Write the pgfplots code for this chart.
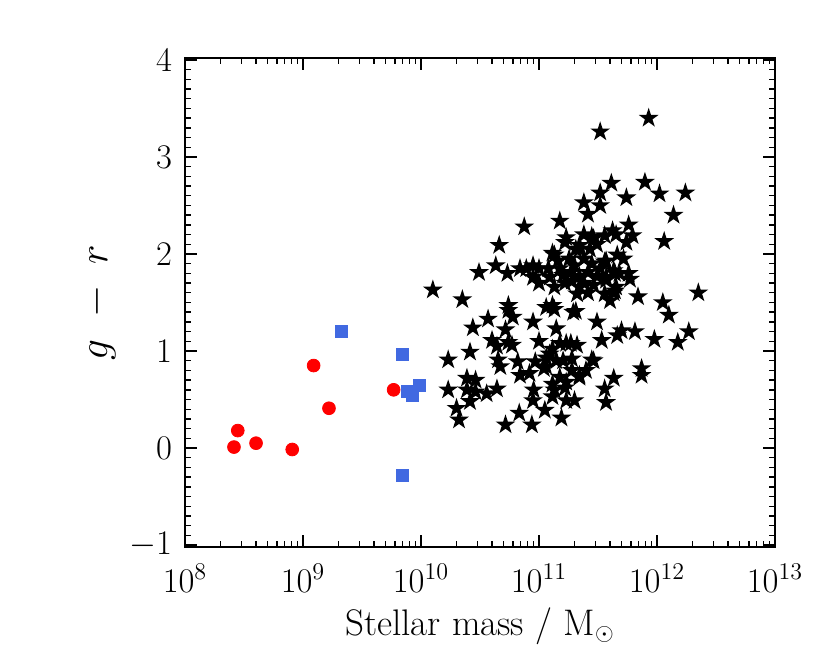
\documentclass[border=0pt]{standalone}
\usepackage{pgfplots}
\pgfplotsset{compat=1.18}
\definecolor{myred}{RGB}{255,0,0}
\definecolor{myblue}{RGB}{65,105,225}
\pgfdeclareplotmark{fstar}{%
  \pgfpathmoveto{\pgfpointpolar{90}{\pgfplotmarksize}}%
  \pgfpathlineto{\pgfpointpolar{126}{0.382\pgfplotmarksize}}%
  \pgfpathlineto{\pgfpointpolar{162}{\pgfplotmarksize}}%
  \pgfpathlineto{\pgfpointpolar{198}{0.382\pgfplotmarksize}}%
  \pgfpathlineto{\pgfpointpolar{234}{\pgfplotmarksize}}%
  \pgfpathlineto{\pgfpointpolar{270}{0.382\pgfplotmarksize}}%
  \pgfpathlineto{\pgfpointpolar{306}{\pgfplotmarksize}}%
  \pgfpathlineto{\pgfpointpolar{342}{0.382\pgfplotmarksize}}%
  \pgfpathlineto{\pgfpointpolar{18}{\pgfplotmarksize}}%
  \pgfpathlineto{\pgfpointpolar{54}{0.382\pgfplotmarksize}}%
  \pgfpathclose
  \pgfusepathqfill}
\begin{document}
\begin{tikzpicture}
\path (-92.5pt,-58.5pt) rectangle (322.5pt,273.5pt);
\begin{axis}[
  at={(0,0)}, anchor=south west,
  scale only axis, width=295pt, height=244.5pt,
  xmode=log, xmin=1e8, xmax=1e13,
  ymin=-1.02, ymax=4.02,
  ytick={-1,0,1,2,3,4},
  minor y tick num=9,
  tick align=inside,
  major tick length=6pt, minor tick length=3pt,
  axis line style={line width=0.9pt},
  every tick/.style={black, line width=0.7pt},
  tick label style={font=\fontsize{17.5}{20}\selectfont},
  xticklabel style={yshift=-5pt},
  yticklabel style={xshift=-3pt},
  xlabel={Stellar mass / M$_\odot$},
  ylabel={$g\ -\ r$},
  xlabel style={font=\fontsize{18.5}{22}\selectfont, yshift=-1pt},
  ylabel style={font=\fontsize{20}{24}\selectfont, yshift=0pt},
  clip=true,
]
\addplot[only marks, mark=fstar, mark size=5.2pt, black] coordinates {
(8.5e11,3.40) (3.3e11,3.26) (4.1e11,2.73) (7.9e11,2.74) (3.3e11,2.63)
(5.5e11,2.58) (1.05e12,2.62) (1.74e12,2.63) (2.4e11,2.53) (3.3e11,2.50)
(2.6e11,2.41) (1.38e12,2.40) (1.5e11,2.34) (7.5e10,2.28) (5.75e11,2.30)
(4.2e11,2.24) (6.2e11,2.19) (1.15e12,2.13) (5.5e11,2.12) (3.6e11,2.19)
(4.6e10,2.09) (1.7e11,2.17) (2.9e11,2.16) (1.3e11,2.01) (2.2e11,2.05)
(4.6e11,1.99) (3.7e11,1.93) (5.75e11,1.80) (4.4e11,1.80) (3.1e10,1.81)
(4.3e10,1.88) (5.4e10,1.80) (7.8e10,1.85) (8.9e10,1.88) (4.3e11,1.83)
(5.9e11,1.74) (3.7e11,1.73) (4.4e11,1.62) (6.9e11,1.56) (2.24e12,1.60)
(1.12e12,1.50) (1.26e12,1.37) (4.0e11,1.52) (5.0e11,1.21) (6.5e11,1.20)
(4.6e11,1.16) (9.5e11,1.12) (1.5e12,1.09) (1.86e12,1.20) (3.4e11,1.11)
(7.4e11,0.82) (7.4e11,0.75) (4.3e11,0.72) (3.6e11,0.61) (3.7e11,0.47)
(1.26e10,1.63) (2.24e10,1.53) (5.5e10,1.47) (5.5e10,1.42) (1.15e11,1.45)
(1.3e11,1.47) (1.95e11,1.40) (3.7e10,1.33) (2.75e10,1.24) (5.2e10,1.22)
(8.9e10,1.30) (1.4e11,1.23) (3.1e11,1.30) (4.0e10,1.11) (4.4e10,1.05)
(5.5e10,1.09) (2.6e10,0.99) (1.7e10,0.91) (4.5e10,0.91) (4.7e10,0.84)
(6.6e10,0.89) (9.3e10,0.89) (1.3e11,1.02) (1.7e11,1.08) (2.1e11,1.06)
(1.4e11,0.90) (1.9e11,0.92) (2.9e11,0.90) (6.9e10,0.75) (8.3e10,0.77)
(1.15e11,0.84) (1.3e11,0.66) (1.7e11,0.68) (2.2e11,0.73) (1.5e11,0.73)
(1.7e10,0.60) (2.45e10,0.72) (2.9e10,0.70) (2.45e10,0.60) (2.9e10,0.58)
(3.6e10,0.56) (4.4e10,0.61) (2.6e10,0.48) (2.0e10,0.41) (2.1e10,0.29)
(8.9e10,0.49) (6.8e10,0.36) (1.12e11,0.39) (1.3e11,0.53) (1.7e11,0.49)
(1.55e11,0.31) (5.2e10,0.24) (8.7e10,0.24) (1.35e11,1.99) (2.05e11,2.05)
(1.66e11,2.12) (2.2e11,2.09) (2.7e11,2.05) (3.1e11,2.10) (2.8e11,2.18)
(4.5e11,2.20) (3.6e11,1.92) (1.2e11,1.85) (1.5e11,1.85) (1.86e11,1.81)
(2.2e11,1.77) (2.6e11,1.81) (3.1e11,1.77) (3.7e11,1.76) (4.5e11,1.66)
(2.2e11,1.66) (2.1e11,1.59) (1.35e11,1.66) (1.66e11,1.70) (1.23e11,1.76)
(6.9e10,1.85) (8.9e10,1.76) (1.0e11,1.70) (3.6e11,1.59) (1.35e11,1.43)
(2.05e11,1.41) (2.8e11,0.91) (1.86e11,1.08) (1.5e11,1.08) (1.23e11,0.97)
(1.6e11,0.90) (2.2e11,0.75) (1.66e11,0.62) (1.35e11,0.60) (1.1e11,0.82)
(1.15e11,0.93) (5.9e10,1.06) (4.3e11,1.60) (2.0e11,0.49)
(1.8e11,1.95) (2.4e11,1.95) (2.0e11,1.88) (2.8e11,1.90) (1.6e11,1.78)
(2.4e11,1.70) (2.9e11,1.68) (3.3e11,1.85) (1.9e11,1.72) (2.6e11,1.60)
(1.45e11,1.93) (5.2e11,1.95) (4.8e11,1.80) (1.0e11,1.85) (2.4e11,2.20)
(6.0e10,1.35) (1.0e11,1.10) (2.5e11,0.80) (1.9e11,0.80) (9.0e10,0.60)
};
\addplot[only marks, mark=*, mark size=3.2pt, myred] coordinates {
(2.6e8,0.01) (2.8e8,0.18) (4.0e8,0.05) (8.1e8,-0.015)
(1.23e9,0.85) (1.66e9,0.41) (5.86e9,0.60)
};
\addplot[only marks, mark=square*, mark size=3pt, myblue] coordinates {
(2.1e9,1.20) (6.9e9,0.97) (7.7e9,0.585) (8.4e9,0.54) (9.7e9,0.65) (7.0e9,-0.28)
};
\end{axis}
\end{tikzpicture}
\end{document}
